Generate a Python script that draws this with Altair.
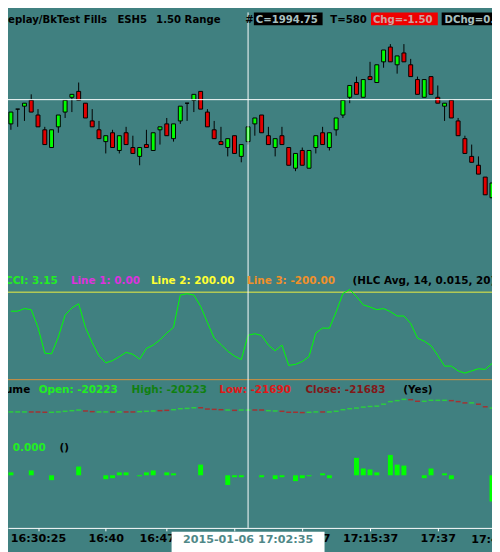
import altair as alt
import pandas as pd

# ---------------- data ----------------
bars = list(range(72))
opens = [1999.75, 2001.00, 2001.25, 2001.75, 2000.50, 1999.25, 1997.75, 1999.50, 2000.75, 2002.00,
         2002.50, 2001.50, 2000.00, 1999.25, 1998.25, 1999.00, 1997.50, 1999.00, 1997.75, 1997.00,
         1998.00, 1997.50, 1999.25, 1999.75, 1998.50, 2000.00, 2001.50, 2001.75, 2002.50, 2000.75,
         1999.25, 1998.25, 1997.75, 1998.75, 1997.00, 1998.25, 1999.75, 2000.50, 1998.75, 1997.75,
         1998.75, 1997.75, 1996.00, 1997.50, 1996.00, 1997.75, 1999.00, 1997.75, 1999.25, 2000.50,
         2002.00, 2003.25, 2002.00, 2003.75, 2003.25, 2005.00, 2006.25, 2004.75, 2005.75, 2004.75,
         2003.50, 2002.00, 2003.75, 2002.00, 2001.25, 2001.75, 2000.00, 1998.50, 1997.00, 1996.25,
         1995.25, 1993.50]
highs = [2000.75, 2001.00, 2001.50, 2002.25, 2001.00, 1999.50, 1999.25, 2000.50, 2001.75, 2002.25,
         2003.25, 2001.50, 2001.00, 2000.00, 1998.75, 1999.25, 1998.75, 1999.50, 1998.75, 1997.75,
         1999.25, 1999.00, 1999.50, 2000.25, 1999.75, 2001.25, 2001.50, 2002.25, 2002.50, 2001.00,
         2000.00, 1999.50, 1998.50, 1998.75, 1998.00, 1999.50, 2000.25, 2000.50, 1999.50, 1998.50,
         1999.50, 1997.75, 1997.25, 1997.75, 1997.50, 1998.75, 1999.50, 1999.00, 2000.25, 2001.75,
         2003.00, 2003.75, 2003.50, 2005.00, 2004.75, 2006.00, 2006.50, 2005.50, 2006.50, 2005.25,
         2003.75, 2003.50, 2003.75, 2003.00, 2001.50, 2001.75, 2000.25, 1998.75, 1998.00, 1997.00,
         1995.25, 1994.75]
lows = [1999.25, 1999.50, 2000.00, 2000.75, 1999.50, 1998.00, 1997.75, 1999.00, 2000.25, 2000.75,
        2001.75, 2000.25, 1999.50, 1998.50, 1997.25, 1997.75, 1997.25, 1998.00, 1997.25, 1996.25,
        1997.75, 1997.50, 1998.00, 1998.75, 1998.25, 1999.75, 2000.00, 2000.75, 2001.00, 1999.50,
        1998.50, 1998.00, 1997.00, 1997.25, 1996.50, 1998.00, 1998.75, 1999.00, 1998.00, 1997.00,
        1998.00, 1996.25, 1995.75, 1996.25, 1996.00, 1997.25, 1998.00, 1997.50, 1998.75, 2000.25,
        2001.50, 2002.25, 2002.00, 2003.50, 2003.25, 2004.50, 2005.00, 2004.00, 2005.00, 2003.75,
        2002.25, 2002.00, 2002.25, 2001.50, 2000.00, 2000.25, 1998.75, 1997.25, 1996.50, 1995.50,
        1993.75, 1993.50]
closes = [2000.75, 2001.00, 2001.50, 2000.75, 1999.50, 1998.00, 1999.25, 2000.50, 2001.75, 2002.25,
          2001.75, 2000.25, 1999.50, 1998.50, 1998.75, 1997.75, 1998.75, 1998.00, 1997.25, 1997.75,
          1997.75, 1999.00, 1999.50, 1998.75, 1999.75, 2001.25, 2001.50, 2002.25, 2001.00, 1999.50,
          1998.50, 1998.00, 1998.50, 1997.25, 1998.00, 1999.50, 2000.25, 1999.00, 1998.00, 1998.50,
          1998.00, 1996.25, 1997.25, 1996.25, 1997.50, 1998.75, 1998.00, 1999.00, 2000.25, 2001.75,
          2003.00, 2002.25, 2003.50, 2003.50, 2004.75, 2006.00, 2005.00, 2005.50, 2005.00, 2003.75,
          2002.25, 2003.50, 2002.25, 2001.50, 2001.50, 2000.25, 1998.75, 1997.25, 1996.50, 1995.50,
          1993.75, 1994.75]
cci = [113, 113, 125, 120, 39, -79, -82, -5, 95, 128,
       147, 39, -32, -91, -123, -113, -95, -75, -84, -106,
       -57, -42, -18, 13, 39, 187, 193, 187, 135, 61,
       -10, -39, -70, -92, -108, 3, 10, 2, -42, -68,
       -42, -135, -130, -117, -94, 13, 36, 35, 110, 194,
       212, 180, 142, 132, 120, 125, 111, 91, 91, 57,
       -10, -24, -45, -89, -138, -138, -160, -170, -160, -150,
       -153, -126]
cum_delta = [-21000, -21000, -21000, -21000, -21000, -21020, -21020, -21000, -20960, -20920,
             -20880, -20940, -20980, -21000, -21000, -21000, -21000, -21000, -21000, -20980,
             -20960, -20940, -20920, -20900, -20860, -20800, -20780, -20740, -20740, -20820,
             -20840, -20860, -20880, -20900, -20880, -20880, -20880, -20880, -20920, -20940,
             -20960, -21020, -21020, -21040, -21020, -21000, -21000, -21000, -20960, -20860,
             -20800, -20760, -20700, -20660, -20640, -20520, -20360, -20300, -20220, -20240,
             -20340, -20340, -20280, -20280, -20280, -20300, -20360, -20440, -20440, -20520,
             -20680, -20760]
cum_dir = ["up", "up", "up", "dn", "dn", "dn", "up", "up", "up", "up",
           "up", "dn", "dn", "up", "up", "dn", "up", "dn", "dn", "up",
           "up", "up", "dn", "dn", "up", "up", "up", "up", "dn", "dn",
           "dn", "dn", "up", "dn", "up", "up", "dn", "dn", "up", "up",
           "dn", "dn", "dn", "dn", "up", "up", "dn", "up", "up", "up",
           "up", "up", "up", "up", "up", "up", "up", "up", "up", "dn",
           "dn", "up", "up", "up", "up", "dn", "dn", "dn", "up", "dn",
           "dn", "up"]
delta = [60, 0, 0, 100, 0, 0, -100, 0, 0, 0,
         180, 0, 0, 0, -80, -60, 60, 60, 0, -20,
         60, 100, 0, 60, 40, 0, 0, 0, 220, 0,
         0, 0, -200, -40, -40, 0, 0, -40, 0, -80,
         -40, 0, -120, -60, -20, 0, 40, -60, 0, 0,
         0, 360, 140, 120, 60, 0, 420, 220, 200, 0,
         0, -60, 140, 0, 40, -80, 0, 0, 0, 0,
         0, -540]
cci_levels = [200, -200]

tick_bars = [4, 14, 23, 33, 43, 53, 63]
tick_labels = ["16:30:25", "16:40", "16:47:22", "16:55:10", "17:08:07", "17:15:37", "17:37"]
extra_bar = [72]
extra_label = ["17:45:13"]
cursor_bar = [35]
cursor_price = [2001.80]
cursor_time = "2015-01-06  17:02:35"

# ---------------- layout ----------------
W, H, PAD_B = 492, 524, 20
SX, SY = W / 500, H / 532
BG = "#408080"
FONT = "DejaVu Sans"
GREEN, RED = "#00ff00", "#e00000"

price_scale = alt.Scale(domain=[1965.57, 2009.18], nice=False, zero=False, padding=0)
cci_scale = alt.Scale(domain=[-877.7, 1478.8], nice=False, zero=False, padding=0)
cum_scale = alt.Scale(domain=[-28180, 3740], nice=False, zero=False, padding=0)
delta_scale = alt.Scale(domain=[-1086, 9554], nice=False, zero=False, padding=0)

label_expr = " : ".join(f"datum.value == {b} ? '{t}'" for b, t in zip(tick_bars, tick_labels)) + " : ''"


def X(field="bar"):
    return alt.X(
        f"{field}:Q",
        scale=alt.Scale(domain=[-3 / 7, 71], nice=False, zero=False, padding=0),
        axis=alt.Axis(values=tick_bars, labelExpr=label_expr, title=None, grid=False,
                      domainColor="white", domainWidth=1, tickColor="white", tickSize=3,
                      labelColor="black", labelFont=FONT, labelFontWeight="bold",
                      labelFontSize=11.3, labelPadding=2, labelOverlap=False,
                      labelFlush=False, labelBound=False, zindex=0),
    )


df = pd.DataFrame({"bar": bars, "open": opens, "high": highs, "low": lows, "close": closes})
cci_df = pd.DataFrame({"bar": bars, "cci": cci})
cum_df = pd.DataFrame({"bar": bars, "cum": cum_delta, "dir": cum_dir})
delta_df = pd.DataFrame({"bar": bars, "delta": delta})
delta_df = delta_df[delta_df["delta"] != 0]
cur_df = pd.DataFrame({"bar": cursor_bar, "price": cursor_price})
extra_df = pd.DataFrame({"bar": extra_bar, "label": extra_label})
one = pd.DataFrame({"a": [0]})

layers = []

# CCI reference lines
layers.append(alt.Chart(pd.DataFrame({"level": [cci_levels[0]]})).mark_rule(color="#f0f040", strokeWidth=1)
              .encode(y=alt.Y("level:Q", scale=cci_scale, axis=None)))
layers.append(alt.Chart(pd.DataFrame({"level": [cci_levels[1]]})).mark_rule(color="#d8903a", strokeWidth=1)
              .encode(y=alt.Y("level:Q", scale=cci_scale, axis=None)))
# CCI line
layers.append(alt.Chart(cci_df).mark_line(color="#00ff00", strokeWidth=1)
              .encode(x=X(), y=alt.Y("cci:Q", scale=cci_scale, axis=None)))
# cumulative delta ticks
layers.append(alt.Chart(cum_df).mark_tick(orient="horizontal", size=5, thickness=1.5)
              .encode(x=X(), y=alt.Y("cum:Q", scale=cum_scale, axis=None),
                      color=alt.condition(alt.datum.dir == "up", alt.value("#22ee22"), alt.value("#cc1111"))))
# delta histogram
layers.append(alt.Chart(delta_df).mark_bar(width=5, color=GREEN)
              .encode(x=X(), y=alt.Y("delta:Q", scale=delta_scale, axis=None), y2=alt.Y2Datum(0)))
# candles
layers.append(alt.Chart(df).mark_rule(color="black", strokeWidth=1)
              .encode(x=X(), y=alt.Y("low:Q", scale=price_scale, axis=None), y2="high:Q"))
layers.append(alt.Chart(df).mark_bar(width=4, stroke="black", strokeWidth=1)
              .encode(x=X(), y=alt.Y("open:Q", scale=price_scale, axis=None), y2="close:Q",
                      fill=alt.condition(alt.datum.close >= alt.datum.open, alt.value(GREEN), alt.value(RED))))
# cursor
layers.append(alt.Chart(cur_df).mark_rule(color="white", strokeWidth=1)
              .encode(y=alt.Y("price:Q", scale=price_scale, axis=None)))
layers.append(alt.Chart(cur_df).mark_rule(color="white", strokeWidth=1).encode(x=X()))


def txt(s, x, y, color, size=10.6, align="left"):
    return (alt.Chart(one)
            .mark_text(text=s, align=align, baseline="alphabetic", font=FONT, fontWeight="bold",
                       fontSize=size, color=color)
            .encode(x=alt.value(x * SX), y=alt.value(y * SY)))


def box(x1, x2, y1, y2, color):
    return (alt.Chart(one).mark_rect(color=color)
            .encode(x=alt.value(x1 * SX), x2=alt.value(x2 * SX), y=alt.value(y1 * SY), y2=alt.value(y2 * SY)))


# title row
layers += [
    txt("Replay/BkTest Fills", -8, 11, "black", 10.3),
    txt("ESH5", 113, 11, "black", 10.3),
    txt("1.50 Range", 153, 11, "black", 10.3),
    txt("#6", 245, 11, "black", 10.3),
    box(254, 325, 0, 13.3, "black"),
    txt("C=1994.75", 256, 11, "#a8c0c0", 10.3),
    txt("T=580", 333, 11, "black", 10.3),
    box(375, 444, 0, 13.3, "#f00000"),
    txt("Chg=-1.50", 377, 11, "#d0a0a0", 10.3),
    box(448, 510, 0, 13.3, "black"),
    txt("DChg=0.00", 451, 11, "#a8c0c0", 10.3),
]
# CCI row
layers += [
    txt("CCI: 3.15", -3, 280, "#22ee22"),
    txt("Line 1: 0.00", 65, 280, "#dd33dd"),
    txt("Line 2: 200.00", 147.7, 280, "#ffff33"),
    txt("Line 3: -200.00", 247, 280, "#f0902a"),
    txt("(HLC Avg, 14, 0.015, 20)", 356, 280, "black"),
]
# cumulative delta row
layers += [
    txt("Volume", -22, 393, "black"),
    txt("Open: -20223", 31.7, 393, "#22ee22"),
    txt("High: -20223", 127.7, 393, "#108010"),
    txt("Low: -21690", 218.3, 393, "#e01818"),
    txt("Close: -21683", 307.3, 393, "#801818"),
    txt("(Yes)", 408.3, 393, "black"),
]
# delta row
layers += [
    txt("0.000", 5, 453, "#22ee22"),
    txt("()", 53.3, 453, "black"),
]
# partially visible last time label
layers.append(alt.Chart(extra_df).mark_text(align="center", baseline="alphabetic", font=FONT,
                                            fontWeight="bold", fontSize=11.3, color="black")
              .encode(x=X(), y=alt.value(548 * SY), text="label:N"))
# cursor time box
layers.append(box(169, 327, 536, 560, "white"))
layers.append(alt.Chart(cur_df).mark_text(text=cursor_time, align="center", baseline="alphabetic",
                                          font=FONT, fontWeight="bold", fontSize=11.3, color="#508888")
              .encode(x=X(), y=alt.value(548 * SY)))

chart = (alt.layer(*layers)
         .resolve_scale(y="independent")
         .properties(width=W, height=H, background=BG,
                     padding={"left": 0, "top": 0, "right": 0, "bottom": PAD_B},
                     autosize=alt.AutoSizeParams(type="none"))
         .configure_view(strokeWidth=0))

chart.save("out.html", embed_options={"renderer": "svg", "actions": False})
